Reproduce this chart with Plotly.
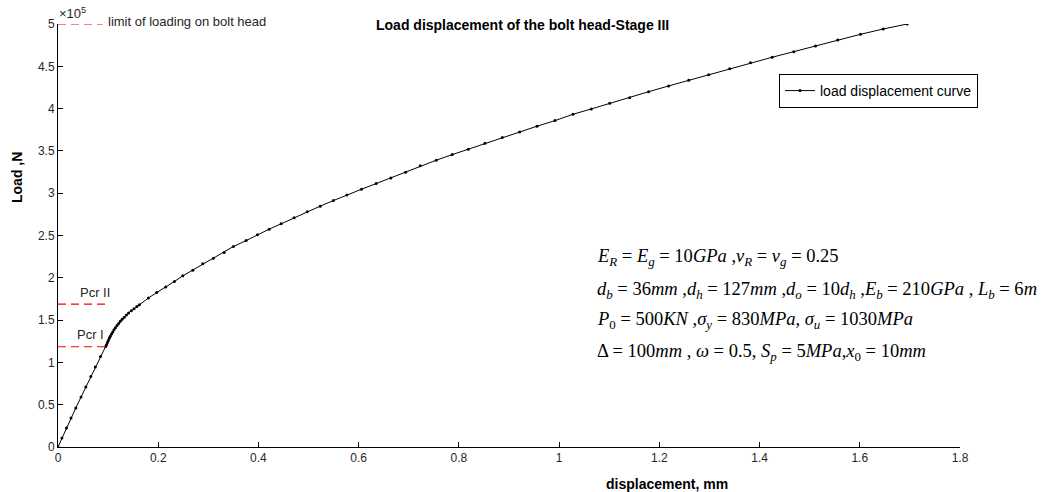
import plotly.graph_objects as go

# ---------------- data ----------------
# displacement in mm, load in units of 1e5 N
disp_mm = [
    0.0, 0.0078, 0.0168, 0.026, 0.0355, 0.046, 0.0555, 0.0655, 0.0745, 0.0848, 0.0952,
    0.0968, 0.0986, 0.1004, 0.1023, 0.1042, 0.1067, 0.1093, 0.1118, 0.1145, 0.1178,
    0.1211, 0.1245, 0.1280, 0.1323, 0.1365, 0.1408, 0.1462, 0.1517, 0.1574,
    0.1624, 0.1803, 0.197, 0.215, 0.2323, 0.249, 0.269, 0.2889, 0.3101, 0.3315,
    0.350, 0.3754, 0.398, 0.4213, 0.4453, 0.4712, 0.4972, 0.5232, 0.5497, 0.5765,
    0.6056, 0.635, 0.6643, 0.6935, 0.7228, 0.7548, 0.7867, 0.8187, 0.852, 0.8866,
    0.9211, 0.9559, 0.9918, 1.0278, 1.0643, 1.1009, 1.1408, 1.1787, 1.2187, 1.2586,
    1.2985, 1.3404, 1.3818, 1.4251, 1.4683, 1.5116, 1.5561, 1.6014, 1.6467, 1.6947,
]
load_1e5N = [
    0.0, 0.106, 0.224, 0.343, 0.461, 0.591, 0.709, 0.834, 0.945, 1.07, 1.188,
    1.21, 1.235, 1.26, 1.285, 1.31, 1.335, 1.36, 1.385, 1.41, 1.435,
    1.46, 1.485, 1.51, 1.535, 1.56, 1.585, 1.61, 1.635, 1.66,
    1.681, 1.76, 1.826, 1.89, 1.956, 2.023, 2.09, 2.165, 2.232, 2.299,
    2.370, 2.440, 2.508, 2.575, 2.638, 2.709, 2.780, 2.847, 2.913, 2.980,
    3.047, 3.114, 3.181, 3.248, 3.323, 3.390, 3.456, 3.520, 3.591, 3.657,
    3.724, 3.792, 3.858, 3.933, 3.996, 4.063, 4.129, 4.200, 4.268, 4.335,
    4.401, 4.472, 4.543, 4.607, 4.673, 4.740, 4.811, 4.878, 4.941, 5.0,
]

limit_x = [0.0, 0.089]
limit_y = [5.0, 5.0]
pcr2_x = [0.0, 0.094]
pcr2_y = [1.69, 1.69]
pcr1_x = [0.0, 0.094]
pcr1_y = [1.185, 1.185]

x_ticks = [0, 0.2, 0.4, 0.6, 0.8, 1.0, 1.2, 1.4, 1.6, 1.8]
x_ticktext = ["0", "0.2", "0.4", "0.6", "0.8", "1", "1.2", "1.4", "1.6", "1.8"]
y_ticks = [0, 0.5, 1, 1.5, 2, 2.5, 3, 3.5, 4, 4.5, 5]
y_ticktext = ["0", "0.5", "1", "1.5", "2", "2.5", "3", "3.5", "4", "4.5", "5"]

# ---------------- layout helpers ----------------
W, H = 1048, 492
ML, MR, MT, MB = 58, 88, 24, 45
PW, PH = W - ML - MR, H - MT - MB

def px(xp):
    return (xp - ML) / PW

def py(yp):
    return (H - MB - yp) / PH

SANS = "Liberation Sans, Arial, sans-serif"
SERIF = "Liberation Serif, Times New Roman, serif"
INK = "#262626"

fig = go.Figure()

fig.add_trace(go.Scatter(
    x=disp_mm, y=load_1e5N, mode="lines+markers",
    name="load displacement curve",
    line=dict(color="black", width=1),
    marker=dict(color="black", size=3),
))

dash_style = dict(color="#ff0000", width=1.2, dash="8px,5px")
for xs, ys in [(limit_x, limit_y), (pcr2_x, pcr2_y), (pcr1_x, pcr1_y)]:
    fig.add_trace(go.Scatter(x=xs, y=ys, mode="lines", line=dash_style,
                             showlegend=False, hoverinfo="skip"))

ann = []
# title
ann.append(dict(text="<b>Load displacement of the bolt head-Stage III</b>",
                x=px(522), y=py(25), xref="paper", yref="paper",
                xanchor="center", yanchor="middle", showarrow=False,
                font=dict(family=SANS, size=14, color="black")))
# exponent
ann.append(dict(text="\u00d710<sup>5</sup>", x=px(57), y=py(13), xref="paper", yref="paper",
                xanchor="left", yanchor="middle", showarrow=False,
                font=dict(family=SANS, size=13, color=INK)))
ann.append(dict(text="limit of loading on bolt head", x=px(106), y=py(21),
                xref="paper", yref="paper", xanchor="left", yanchor="middle",
                showarrow=False, font=dict(family=SANS, size=13, color=INK)))
ann.append(dict(text="Pcr II", x=px(95), y=py(293), xref="paper", yref="paper",
                xanchor="center", yanchor="middle", showarrow=False,
                font=dict(family=SANS, size=13, color=INK)))
ann.append(dict(text="Pcr I", x=px(90), y=py(334), xref="paper", yref="paper",
                xanchor="center", yanchor="middle", showarrow=False,
                font=dict(family=SANS, size=13, color=INK)))
# axis titles
ann.append(dict(text="<b>displacement, mm</b>", x=px(667), y=py(484),
                xref="paper", yref="paper", xanchor="center", yanchor="middle",
                showarrow=False, font=dict(family=SANS, size=14, color="black")))
ann.append(dict(text="<b>Load ,N</b>", x=px(17), y=py(178), textangle=-90,
                xref="paper", yref="paper", xanchor="center", yanchor="middle",
                showarrow=False, font=dict(family=SANS, size=14, color="black")))

# parameter block
def it(s):
    return "<i>" + s + "</i>"

def sub(s):
    return "<sub>" + it(s) + "</sub>"

lines = [
    it("E") + sub("R") + " = " + it("E") + sub("g") + " = 10" + it("GPa") + " ," +
    it("\u03bd") + sub("R") + " = " + it("\u03bd") + sub("g") + " = 0.25",
    it("d") + sub("b") + " = 36" + it("mm") + " ," + it("d") + sub("h") + " = 127" + it("mm") +
    " ," + it("d") + sub("o") + " = 10" + it("d") + sub("h") + " ," + it("E") + sub("b") +
    " = 210" + it("GPa") + " , " + it("L") + sub("b") + " = 6" + it("m"),
    it("P") + "<sub>0</sub> = 500" + it("KN") + " ," + it("\u03c3") + sub("y") + " = 830" +
    it("MPa") + ", " + it("\u03c3") + sub("u") + " = 1030" + it("MPa"),
    "\u0394 = 100" + it("mm") + " , " + it("\u03c9") + " = 0.5, " + it("S") + sub("p") +
    " = 5" + it("MPa") + "," + it("x") + "<sub>0</sub> = 10" + it("mm"),
]
for txt, yp in zip(lines, [257, 290, 320, 352]):
    ann.append(dict(text=txt, x=px(595), y=py(yp), xref="paper", yref="paper",
                    xanchor="left", yanchor="middle", showarrow=False,
                    font=dict(family=SERIF, size=18.5, color="black")))

axis_common = dict(showgrid=False, zeroline=False, showline=True, linecolor="black",
                   linewidth=1, ticks="inside", ticklen=5, tickcolor="black",
                   tickfont=dict(family=SANS, size=12, color=INK), mirror=False)

fig.update_layout(
    width=W, height=H,
    margin=dict(l=ML, r=MR, t=MT, b=MB, pad=0),
    paper_bgcolor="white", plot_bgcolor="white",
    xaxis=dict(range=[0, 1.8], tickvals=x_ticks, ticktext=x_ticktext, **axis_common),
    yaxis=dict(range=[0, 5], tickvals=y_ticks, ticktext=y_ticktext, **axis_common),
    showlegend=True,
    legend=dict(x=px(779), y=py(74), xanchor="left", yanchor="top",
                bordercolor="black", borderwidth=1, bgcolor="white",
                font=dict(family=SANS, size=14, color="black"),
                itemwidth=30, tracegroupgap=0),
    annotations=ann,
)

fig.write_html("out.html")
